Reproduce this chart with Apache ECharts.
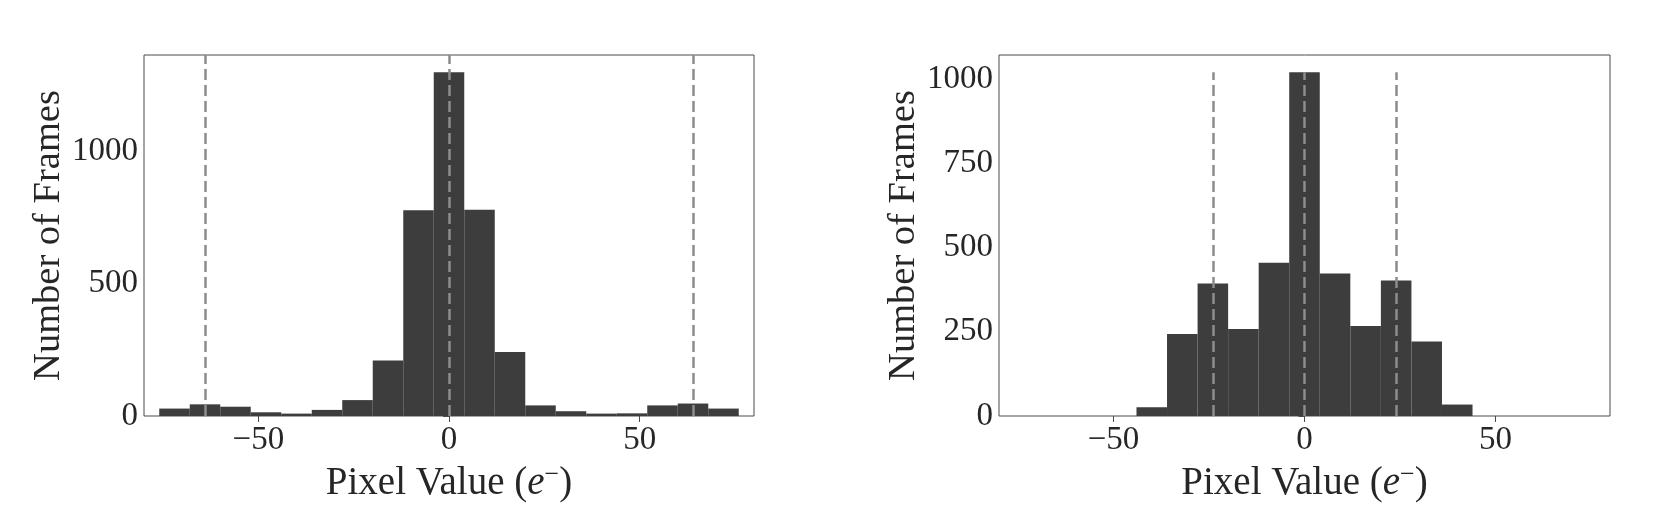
<!DOCTYPE html>
<html>
<head>
<meta charset="utf-8">
<title>Pixel value histograms</title>
<script src="https://cdn.jsdelivr.net/npm/echarts@6/dist/echarts.min.js"></script>
<style>
  html, body { margin: 0; padding: 0; background: #fff; }
  #main { width: 1660px; height: 526px; }
</style>
</head>
<body>
<div id="main"></div>
<script>
// histogram data, 8 e- wide bins
const binWidth = 8
const leftBinStart = -76
const leftCounts = [28, 44, 35, 14, 9, 23, 60, 209, 776, 1297, 778, 241, 40, 18, 9, 10, 40, 47, 28]
const rightBinStart = -44
const rightCounts = [26, 243, 393, 258, 455, 1020, 423, 267, 402, 221, 34]

// dashed reference lines
const leftLines = [-64, 0, 64]
const rightLines = [-24, 0, 24]
const rightLineTop = 1020

const xTicks = [-50, 0, 50]
const leftYTicks = [0, 500, 1000]
const rightYTicks = [0, 250, 500, 750, 1000]

const font = '"Liberation Serif", "DejaVu Serif", serif'
const textColor = '#262626'
const spineColor = '#4a4a4a'

function binsOf (start, counts) {
  return counts.map((c, i) => [start + i * binWidth, start + (i + 1) * binWidth, c])
}

function renderBar (params, api) {
  const p0 = api.coord([api.value(0), api.value(2)])
  const p1 = api.coord([api.value(1), 0])
  return {
    type: 'rect',
    shape: { x: p0[0], y: p0[1], width: p1[0] - p0[0], height: p1[1] - p0[1] },
    style: { fill: '#3d3d3d' }
  }
}

function xAxisOf (idx) {
  return {
    type: 'value',
    gridIndex: idx,
    min: -80,
    max: 80,
    name: 'Pixel Value ({it|e}{sup|−})',
    nameLocation: 'middle',
    nameGap: 31,
    nameTextStyle: {
      fontFamily: font,
      fontSize: 39,
      color: textColor,
      rich: {
        it: { fontFamily: font, fontSize: 39, fontStyle: 'italic', color: textColor },
        sup: { fontFamily: font, fontSize: 26, color: textColor, padding: [0, 0, 17, 0] }
      }
    },
    axisLine: { show: false },
    axisTick: { show: true, length: 6, customValues: xTicks, lineStyle: { color: spineColor } },
    axisLabel: {
      customValues: xTicks,
      margin: 8,
      fontFamily: font,
      fontSize: 33,
      color: textColor,
      formatter: v => v < 0 ? '−' + Math.abs(v) : String(v)
    },
    splitLine: { show: false }
  }
}

function yAxisOf (idx, max, ticks) {
  return {
    type: 'value',
    gridIndex: idx,
    min: 0,
    max: max,
    name: 'Number of Frames',
    nameLocation: 'middle',
    nameRotate: 90,
    nameGap: 66,
    nameTextStyle: { fontFamily: font, fontSize: 38.5, color: textColor },
    axisLine: { show: false },
    axisTick: { show: true, length: 6, customValues: ticks, lineStyle: { color: spineColor } },
    axisLabel: {
      customValues: ticks,
      margin: 6,
      fontFamily: font,
      fontSize: 33,
      color: textColor,
      formatter: v => String(v)
    },
    splitLine: { show: false }
  }
}

const dashStyle = { color: '#8c8c8c', width: 2.5, type: [11, 5] }

const option = {
  animation: false,
  backgroundColor: '#fff',
  grid: [
    { left: 144, top: 55, width: 610, height: 361, show: true, borderColor: spineColor, borderWidth: 1, backgroundColor: 'transparent' },
    { left: 999, top: 55, width: 611, height: 361, show: true, borderColor: spineColor, borderWidth: 1, backgroundColor: 'transparent' }
  ],
  xAxis: [xAxisOf(0), xAxisOf(1)],
  yAxis: [
    yAxisOf(0, 1362, leftYTicks),
    yAxisOf(1, 1071, rightYTicks)
  ],
  series: [
    {
      type: 'custom',
      xAxisIndex: 0,
      yAxisIndex: 0,
      renderItem: renderBar,
      encode: { x: [0, 1], y: 2 },
      data: binsOf(leftBinStart, leftCounts),
      markLine: {
        silent: true,
        symbol: 'none',
        label: { show: false },
        lineStyle: dashStyle,
        data: leftLines.map(v => ({ xAxis: v }))
      }
    },
    {
      type: 'custom',
      xAxisIndex: 1,
      yAxisIndex: 1,
      renderItem: renderBar,
      encode: { x: [0, 1], y: 2 },
      data: binsOf(rightBinStart, rightCounts),
      markLine: {
        silent: true,
        symbol: 'none',
        label: { show: false },
        lineStyle: dashStyle,
        data: rightLines.map(v => [{ coord: [v, 0] }, { coord: [v, rightLineTop] }])
      }
    }
  ]
}

const myChart = echarts.init(document.getElementById('main'))
myChart.setOption(option)
</script>
</body>
</html>
